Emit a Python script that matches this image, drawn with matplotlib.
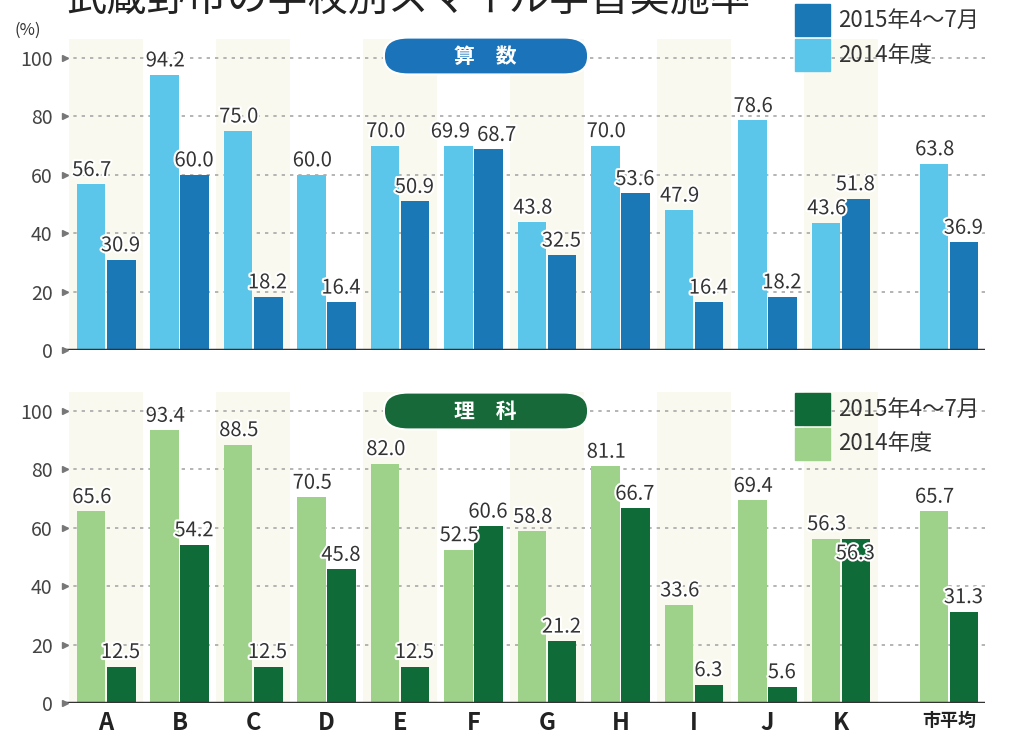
import numpy as np
import matplotlib
matplotlib.use('Agg')
import matplotlib.pyplot as plt
from matplotlib.patches import FancyBboxPatch, Rectangle
import matplotlib.patheffects as pe

plt.rcParams['font.family'] = ['Noto Sans CJK JP', 'DejaVu Sans']

schools = ['A', 'B', 'C', 'D', 'E', 'F', 'G', 'H', 'I', 'J', 'K', '市平均']
math_2014 = [56.7, 94.2, 75.0, 60.0, 70.0, 69.9, 43.8, 70.0, 47.9, 78.6, 43.6, 63.8]
math_2015 = [30.9, 60.0, 18.2, 16.4, 50.9, 68.7, 32.5, 53.6, 16.4, 18.2, 51.8, 36.9]
sci_2014 = [65.6, 93.4, 88.5, 70.5, 82.0, 52.5, 58.8, 81.1, 33.6, 69.4, 56.3, 65.7]
sci_2015 = [12.5, 54.2, 12.5, 45.8, 12.5, 60.6, 21.2, 66.7, 6.3, 5.6, 56.3, 31.3]
series_labels = ['2015年4～7月', '2014年度']
yticks = [0, 20, 40, 60, 80, 100]

W, H = 1012, 741
fig = plt.figure(figsize=(W / 100, H / 100), dpi=100)

x = np.arange(len(schools), dtype=float)
x[-1] = 11.47
bw = 0.39
xl, xr = -0.56, 11.96


def fx(px):
    return px / W


def fy(py):
    return 1 - py / H


def panel(ax, v14, v15, c14, c15, pill_col, title, top, leg_top, nudge):
    ax.set_xlim(xl, xr)
    ax.set_ylim(0, 100 / 0.94)
    for i in range(0, 11, 2):
        ax.axvspan(x[i] - 0.5, x[i] + 0.5, color='#faf9ef', zorder=0, lw=0)
    for v in yticks[1:]:
        ax.axhline(v, color='#a8a8a8', lw=1.2, ls=(0, (2, 3)), zorder=1)
    ax.bar(x - bw / 2 - 0.01, v14, bw, color=c14, zorder=2)
    ax.bar(x + bw / 2 + 0.01, v15, bw, color=c15, zorder=2)
    for i, (xi, a, b) in enumerate(zip(x, v14, v15)):
        for j, (xx, v) in enumerate([(xi - bw / 2, a), (xi + bw / 2, b)]):
            dx, dy = nudge.get((i, j), (0, 0))
            t = ax.text(xx + dx, v + 1.2 + dy, f'{v:.1f}', ha='center', va='bottom',
                        fontsize=14.5, color='#333333', zorder=4)
            t.set_path_effects([pe.withStroke(linewidth=3, foreground='white')])
    ax.axhline(0, color='#333333', lw=2.5, zorder=3)
    for s in ax.spines.values():
        s.set_visible(False)
    ax.set_yticks(yticks)
    ax.set_yticklabels([str(v) for v in yticks], fontsize=14, color='#444444')
    ax.tick_params(axis='y', length=0, pad=9)
    ax.plot([0] * len(yticks), yticks, marker='>', ls='none', ms=5, color='#777777',
            transform=ax.get_yaxis_transform(), clip_on=False, zorder=5)
    # pill title
    p = FancyBboxPatch((fx(390), fy(top + 14)), fx(192), fy(top - 14) - fy(top + 14),
                       transform=fig.transFigure,
                       boxstyle='round,pad=0.006,rounding_size=0.024', fc=pill_col,
                       ec='white', lw=1.5, zorder=10)
    fig.patches.append(p)
    fig.text(fx(485), fy(top), title, ha='center', va='center', color='white',
             fontsize=15, fontweight='bold', zorder=11)
    # legend
    for k, (col, lab) in enumerate([(c15, series_labels[0]), (c14, series_labels[1])]):
        yy = leg_top + k * 35
        fig.patches.append(Rectangle((fx(795), fy(yy + 16)), fx(35), 32 / H, color=col,
                                     transform=fig.transFigure))
        fig.text(fx(838), fy(yy), lab, ha='left', va='center', fontsize=16,
                 color='#333333')


math_nudge = {(5, 0): (-0.12, 0), (5, 1): (0.12, 0)}
sci_nudge = {(10, 0): (0.0, 0), (10, 1): (0.0, -10)}

ax1 = fig.add_axes([fx(65), fy(350), fx(920), (fy(58) - fy(350)) / 0.94])
panel(ax1, math_2014, math_2015, '#5cc6ea', '#1b78b7', '#1b74ba', '算　数', 56, 20,
      math_nudge)
ax1.set_xticks([])

ax2 = fig.add_axes([fx(65), fy(703), fx(920), (fy(411) - fy(703)) / 0.94])
panel(ax2, sci_2014, sci_2015, '#9ed18a', '#0f6b38', '#17693a', '理　科', 411, 409,
      sci_nudge)
ax2.set_xticks(x)
ax2.set_xticklabels(schools, fontsize=17, fontweight='bold', color='#222222')
ax2.get_xticklabels()[-1].set_fontsize(13)
ax2.tick_params(axis='x', length=0, pad=6)

fig.text(fx(15), fy(30), '(%)', fontsize=12, color='#333333', va='center')
fig.text(fx(66), fy(20), '武蔵野市の学校別スマイル学習実施率', fontsize=29, color='#222222',
         va='bottom', ha='left')

fig.savefig('out.png', dpi=100)
